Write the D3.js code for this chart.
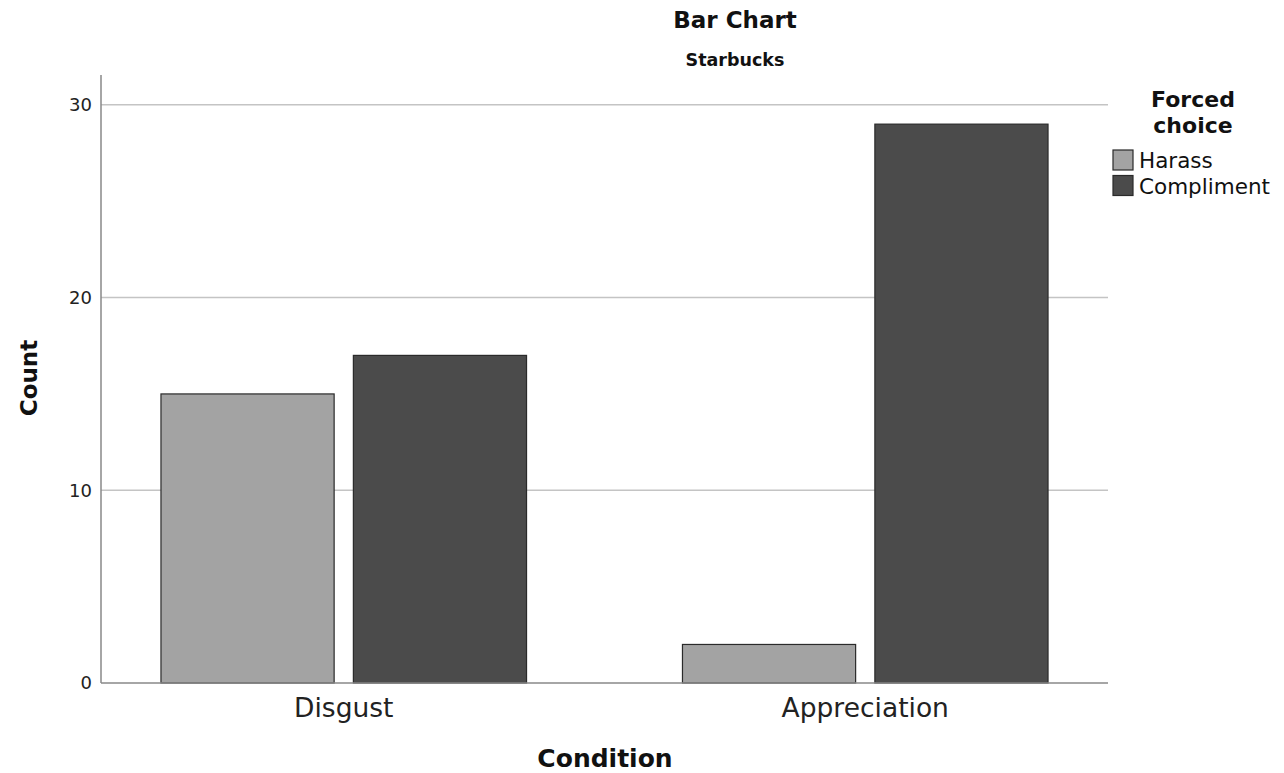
<!DOCTYPE html>
<html><head><meta charset="utf-8">
<script src="https://cdn.jsdelivr.net/npm/d3@7"></script>
<style>body{margin:0;background:#fff;} text{font-family:"DejaVu Sans",sans-serif;}</style>
</head><body>
<svg id="chart" width="1284" height="773"></svg>
<script>
const categories = ["Disgust", "Appreciation"];
const seriesNames = ["Harass", "Compliment"];
const harass = [15, 2];
const compliment = [17, 29];
const yTicks = [0, 10, 20, 30];
const colors = ["#a3a3a3", "#4b4b4b"];

const svg = d3.select("#chart");
const pL = 101, pR = 1108, pT = 75, pB = 683;
const y = d3.scaleLinear().domain([0, 31.55]).range([pB, pT]);
const x0 = d3.scaleBand().domain(categories).range([pL, pR]).paddingInner(0.299).paddingOuter(0.115);
const x1 = d3.scaleBand().domain(seriesNames).range([0, x0.bandwidth()]).paddingInner(0.1).paddingOuter(0);
const seriesVals = [harass, compliment];

// gridlines
svg.append("g").selectAll("line").data(yTicks.filter(d => d > 0)).join("line")
  .attr("x1", pL).attr("x2", pR).attr("y1", d => y(d)).attr("y2", d => y(d))
  .attr("stroke", "#c4c4c4").attr("stroke-width", 1.5);

// y axis
const yAxis = svg.append("g").attr("transform", `translate(${pL},0)`)
  .call(d3.axisLeft(y).tickValues(yTicks).tickSize(0).tickPadding(9));
yAxis.select(".domain").remove();
yAxis.selectAll("text").attr("font-size", 18).attr("fill", "#222").attr("font-family", "DejaVu Sans");
svg.append("line").attr("x1", pL).attr("x2", pL).attr("y1", pT).attr("y2", pB)
  .attr("stroke", "#888").attr("stroke-width", 1.5);

// bars
const groups = svg.append("g").selectAll("g").data(categories).join("g")
  .attr("transform", d => `translate(${x0(d)},0)`);
groups.selectAll("rect").data((d, i) => seriesNames.map((s, j) => ({s, v: seriesVals[j][i], j})))
  .join("rect")
  .attr("x", d => x1(d.s)).attr("width", x1.bandwidth())
  .attr("y", d => y(d.v)).attr("height", d => y(0) - y(d.v))
  .attr("fill", d => colors[d.j]).attr("stroke", "#2a2a2a").attr("stroke-width", 1.2);

// x axis
svg.append("line").attr("x1", pL).attr("x2", pR).attr("y1", pB).attr("y2", pB)
  .attr("stroke", "#888").attr("stroke-width", 1.5);
const xAxis = svg.append("g").attr("transform", `translate(0,${pB})`)
  .call(d3.axisBottom(x0).tickSize(0).tickPadding(15));
xAxis.select(".domain").remove();
xAxis.selectAll("text").attr("font-size", 26.5).attr("fill", "#222").attr("font-family", "DejaVu Sans");

// titles
svg.append("text").attr("x", 735).attr("y", 28).attr("text-anchor", "middle")
  .attr("font-size", 23).attr("font-weight", "bold").attr("fill", "#111").text("Bar Chart");
svg.append("text").attr("x", 735).attr("y", 66).attr("text-anchor", "middle")
  .attr("font-size", 17.5).attr("font-weight", "bold").attr("fill", "#111").text("Starbucks");
svg.append("text").attr("x", 605).attr("y", 767).attr("text-anchor", "middle")
  .attr("font-size", 25).attr("font-weight", "bold").attr("fill", "#111").text("Condition");
svg.append("text").attr("transform", "translate(37,378) rotate(-90)").attr("text-anchor", "middle")
  .attr("font-size", 23).attr("font-weight", "bold").attr("fill", "#111").text("Count");

// legend
svg.append("text").attr("x", 1193).attr("y", 107).attr("text-anchor", "middle")
  .attr("font-size", 22).attr("font-weight", "bold").attr("fill", "#111").text("Forced");
svg.append("text").attr("x", 1193).attr("y", 133).attr("text-anchor", "middle")
  .attr("font-size", 22).attr("font-weight", "bold").attr("fill", "#111").text("choice");
const leg = svg.append("g").selectAll("g").data(seriesNames).join("g")
  .attr("transform", (d, i) => `translate(1113,${150 + i * 25.5})`);
leg.append("rect").attr("width", 20).attr("height", 20)
  .attr("fill", (d, i) => colors[i]).attr("stroke", "#2a2a2a").attr("stroke-width", 1.2);
leg.append("text").attr("x", 26).attr("y", 18).attr("font-size", 21.5).attr("fill", "#111").text(d => d);
</script>
</body></html>
